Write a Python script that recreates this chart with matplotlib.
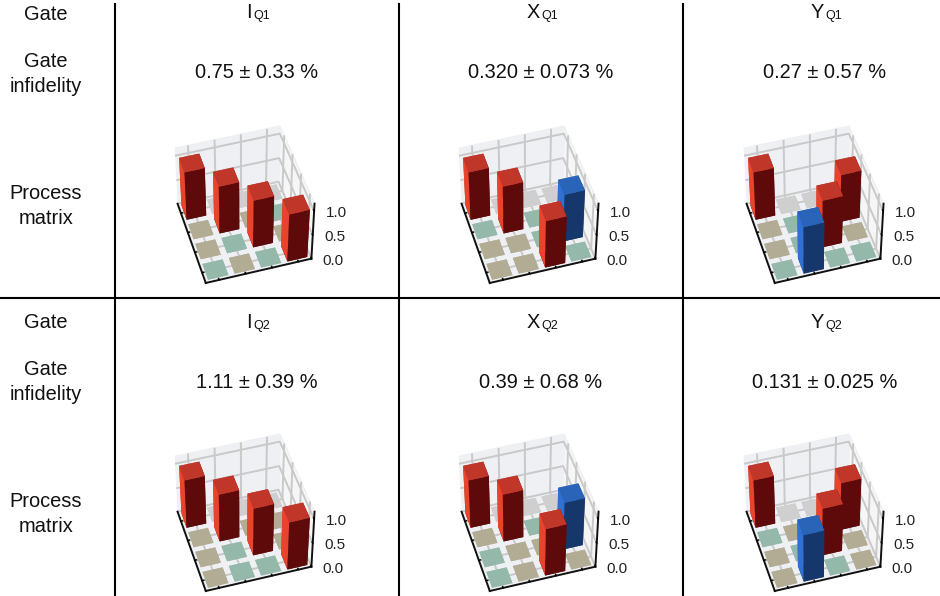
import numpy as np
import matplotlib
matplotlib.use("Agg")
import matplotlib.pyplot as plt
from matplotlib.lines import Line2D

plt.rcParams['font.family'] = ['Liberation Sans', 'DejaVu Sans']

W, H = 940, 596

gate_names = ["I", "X", "Y", "I", "X", "Y"]
gate_subs = ["Q1", "Q1", "Q1", "Q2", "Q2", "Q2"]
infidelities = ["0.75 ± 0.33 %", "0.320 ± 0.073 %", "0.27 ± 0.57 %",
                "1.11 ± 0.39 %", "0.39 ± 0.68 %", "0.131 ± 0.025 %"]

p, n = 0.01, -0.01
I_Q1 = [[0.99, 0, 0, 0], [p, 0.98, p, n], [p, n, 0.98, p], [n, p, n, 0.99]]
X_Q1 = [[0.99, 0, 0, 0], [n, 0.98, n, p], [p, p, n, -0.98], [p, p, 0.98, n]]
Y_Q1 = [[0.99, 0, 0, 0], [p, n, p, 0.98], [p, n, 0.98, p], [n, -0.98, n, n]]
I_Q2 = [[0.99, 0, 0, 0], [p, 0.98, p, p], [p, n, 0.98, p], [p, n, n, 0.99]]
X_Q2 = [[0.99, 0, 0, 0], [p, 0.98, n, p], [n, p, p, -0.98], [n, p, 0.98, p]]
Y_Q2 = [[0.99, 0, 0, 0], [n, p, p, 0.98], [p, n, 0.98, p], [p, -0.98, n, p]]
matrices = [I_Q1, X_Q1, Y_Q1, I_Q2, X_Q2, Y_Q2]
z_ticks = [0.0, 0.5, 1.0]

RED = dict(top='#c0372a', left='#e8442b', front='#5e0a0b', right='#5e0a0b', back='#c0372a')
BLUE = dict(top='#2a64b8', left='#2f70d2', front='#16376b', right='#16376b', back='#2a64b8')
TAN, TEAL, GRAY = '#b1ac93', '#94b9ab', '#cfcfcf'


def face_colors(v):
    if abs(v) < 0.5:
        c = GRAY if v == 0 else (TAN if v > 0 else TEAL)
        return [c] * 6
    s = RED if v > 0 else BLUE
    # bottom, top, -y (front), +y (back), -x (left), +x (right)
    return [s['front'], s['top'], s['front'], s['back'], s['left'], s['right']]


fig = plt.figure(figsize=(W / 100, H / 100), dpi=100)
fig.patch.set_facecolor('white')


def px_text(x, y, s, size=14.4, ha='center', **kw):
    fig.text(x / W, 1 - y / H, s, ha=ha, va='center', fontsize=size, color='#111111', **kw)


def draw_panel(k, matrix):
    col, row = k % 3, k // 3
    cx = [241, 525, 810][col]
    cy = [206, 514][row]
    size = 171
    ax = fig.add_axes([(cx - size / 2) / W, 1 - (cy + size / 2) / H, size / W, size / H],
                      projection='3d', computed_zorder=False)
    ax.patch.set_alpha(0)
    m = np.array(matrix, dtype=float)
    cells = sorted(((r, c) for r in range(4) for c in range(4)), key=lambda t: (t[0], -t[1]))
    w = 0.76
    for r, c in cells:
        v = m[r, c]
        h = abs(v) if abs(v) > 0.5 else 0.004
        ax.bar3d(c + 0.5 - w / 2, 3.5 - r - w / 2, 0, w, w, h, color=face_colors(v), shade=False,
                 edgecolor='none', linewidth=0)
    ax.set_xlim(0, 4)
    ax.set_ylim(0, 4)
    ax.set_zlim(0, 1.15)
    ax.set_proj_type('persp', focal_length=1.5)
    ax.set_box_aspect((1, 1, 0.75), zoom=1.0)
    ax.view_init(elev=48, azim=-106.5)
    ax.set_xticks([0.5, 1.5, 2.5, 3.5])
    ax.set_yticks([0.5, 1.5, 2.5, 3.5])
    ax.set_zticks(z_ticks)
    ax.set_xticklabels([])
    ax.set_yticklabels([])
    ax.set_zticklabels(['0.0', '0.5', '1.0'], fontsize=11, color='#222222')
    for lbl in ax.get_zticklabels():
        lbl.set_va('bottom')
    ax.zaxis.set_ticks_position('lower')
    ax.tick_params(axis='z', pad=2)
    ax.xaxis.set_pane_color('#f6f6f6')
    ax.yaxis.set_pane_color('#eef0f3')
    ax.zaxis.set_pane_color('#eef0f3')
    for a in (ax.xaxis, ax.yaxis, ax.zaxis):
        a.line.set_color('#111111')
        a.line.set_linewidth(1.4)
        a.pane.set_edgecolor('#eef0f3')
        a._axinfo['grid'].update(color='#c9c9c9', linewidth=1.4)
        a._axinfo['tick'].update(color='#111111', linewidth={True: 1.0, False: 0.5},
                                 inward_factor=0.0, outward_factor=0.2)


sub_x = [253, 541, 825]
for k, mat in enumerate(matrices):
    draw_panel(k, mat)
    col, row = k % 3, k // 3
    cx = [257, 541, 825][col]
    y0 = [12, 322][row]
    y1 = [73, 382][row]
    px_text(sub_x[col] - 1, y0, gate_names[k], ha='right')
    px_text(sub_x[col], y0 + 4, gate_subs[k], size=9, ha='left')
    px_text(cx, y1, infidelities[k])

for y0, y1, y2 in [(15, 74, 206), (322, 382, 514)]:
    px_text(46, y0, "Gate")
    px_text(46, y1, "Gate\ninfidelity", linespacing=1.45)
    px_text(46, y2, "Process\nmatrix", linespacing=1.45)

for x in [115, 399, 683]:
    fig.add_artist(Line2D([x / W, x / W], [1 - 4 / H, 1 - 595 / H], color='black', lw=1.5))
fig.add_artist(Line2D([0, 1], [1 - 298 / H, 1 - 298 / H], color='black', lw=1.5))

fig.savefig('out.png', dpi=100)
